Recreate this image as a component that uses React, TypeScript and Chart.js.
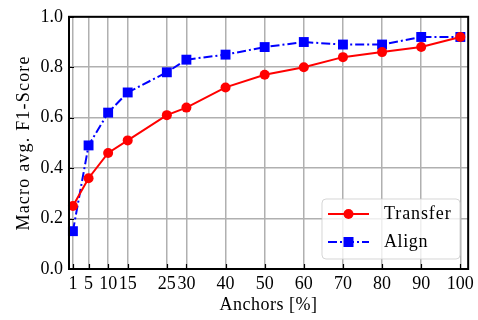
import React, { useEffect, useRef } from 'react';
import { Chart, registerables } from 'chart.js';

Chart.register(...registerables);

const anchors = [1, 5, 10, 15, 25, 30, 40, 50, 60, 70, 80, 90, 100];
const transfer = [0.25, 0.36, 0.46, 0.51, 0.61, 0.64, 0.72, 0.77, 0.8, 0.84, 0.86, 0.88, 0.92];
const align = [0.15, 0.49, 0.62, 0.7, 0.78, 0.83, 0.85, 0.88, 0.9, 0.89, 0.89, 0.92, 0.92];
const yTicks = [0, 0.2, 0.4, 0.6, 0.8, 1.0];
const seriesLabels = ['Transfer', 'Align'];
const xTitle = 'Anchors [%]';
const yTitle = 'Macro avg. F1-Score';

const FONT = '"Liberation Serif", "Times New Roman", serif';
const FS = 18;

const decorPlugin = {
  id: 'decor',
  afterDatasetsDraw(chart: any) {
    const ctx = chart.ctx;
    const { left, right, top, bottom } = chart.chartArea;
    const xs = chart.scales.x;
    const ys = chart.scales.y;
    ctx.save();
    // tick marks (inward)
    ctx.strokeStyle = '#000';
    ctx.lineWidth = 1.2;
    ctx.beginPath();
    anchors.forEach((v) => {
      const px = Math.round(xs.getPixelForValue(v)) + 0.5;
      ctx.moveTo(px, bottom);
      ctx.lineTo(px, bottom - 5);
    });
    yTicks.forEach((v) => {
      const py = Math.round(ys.getPixelForValue(v)) + 0.5;
      ctx.moveTo(left, py);
      ctx.lineTo(left + 5, py);
    });
    ctx.stroke();
    // spines
    ctx.lineWidth = 2;
    ctx.strokeRect(left, top, right - left, bottom - top);
    // titles
    ctx.fillStyle = '#000';
    ctx.font = `${FS}px ${FONT}`;
    ctx.textAlign = 'center';
    ctx.textBaseline = 'middle';
    (ctx as any).letterSpacing = '0.5px';
    ctx.fillText(xTitle, (left + right) / 2, 305);
    ctx.save();
    ctx.translate(24, (top + bottom) / 2);
    ctx.rotate(-Math.PI / 2);
    (ctx as any).letterSpacing = '1.2px';
    ctx.fillText(yTitle, 0, 0);
    ctx.restore();
    // legend
    const lx = 322, ly = 199, lw = 138, lh = 60, r = 4;
    ctx.beginPath();
    ctx.moveTo(lx + r, ly);
    ctx.arcTo(lx + lw, ly, lx + lw, ly + lh, r);
    ctx.arcTo(lx + lw, ly + lh, lx, ly + lh, r);
    ctx.arcTo(lx, ly + lh, lx, ly, r);
    ctx.arcTo(lx, ly, lx + lw, ly, r);
    ctx.closePath();
    ctx.fillStyle = 'rgba(255,255,255,0.8)';
    ctx.fill();
    ctx.strokeStyle = 'rgba(204,204,204,0.8)';
    ctx.lineWidth = 1;
    ctx.stroke();
    chart.data.datasets.forEach((ds: any, i: number) => {
      const cy = 214 + i * 28;
      ctx.strokeStyle = ds.borderColor;
      ctx.lineWidth = 2;
      ctx.setLineDash(ds.borderDash || []);
      ctx.beginPath();
      ctx.moveTo(328, cy);
      ctx.lineTo(369, cy);
      ctx.stroke();
      ctx.setLineDash([]);
      ctx.fillStyle = ds.pointBackgroundColor;
      if (ds.pointStyle === 'rect') {
        ctx.fillRect(348.5 - 5, cy - 5, 10, 10);
      } else {
        ctx.beginPath();
        ctx.arc(348.5, cy, 5, 0, Math.PI * 2);
        ctx.fill();
      }
      ctx.fillStyle = '#000';
      ctx.textAlign = 'left';
      (ctx as any).letterSpacing = i === 0 ? '0.9px' : '0.6px';
      ctx.fillText(ds.label, 384, cy);
    });
    (ctx as any).letterSpacing = '0px';
    ctx.restore();
  },
};

export default function App() {
  const ref = useRef<HTMLCanvasElement>(null);
  useEffect(() => {
    if (!ref.current) return;
    const chart = new Chart(ref.current, {
      type: 'line',
      data: {
        datasets: [
          {
            label: seriesLabels[0],
            data: anchors.map((x, i) => ({ x, y: transfer[i] })),
            borderColor: '#ff0000',
            backgroundColor: '#ff0000',
            pointBackgroundColor: '#ff0000',
            pointBorderWidth: 0,
            pointStyle: 'circle',
            pointRadius: 5,
            borderWidth: 2,
            tension: 0,
            clip: false,
          } as any,
          {
            label: seriesLabels[1],
            data: anchors.map((x, i) => ({ x, y: align[i] })),
            borderColor: '#0000ff',
            backgroundColor: '#0000ff',
            pointBackgroundColor: '#0000ff',
            pointBorderWidth: 0,
            pointStyle: 'rect',
            pointRadius: 7,
            borderWidth: 2,
            borderDash: [9, 3, 2, 3],
            tension: 0,
            clip: false,
          } as any,
        ],
      },
      options: {
        responsive: false,
        animation: false,
        layout: { padding: { top: 15, right: 8, left: 0, bottom: 0 } },
        plugins: { legend: { display: false }, tooltip: { enabled: false } },
        scales: {
          x: {
            type: 'linear',
            min: 0,
            max: 102,
            afterBuildTicks: (s: any) => {
              s.ticks = anchors.map((v) => ({ value: v }));
            },
            afterFit: (s: any) => {
              s.height = 51;
            },
            grid: { color: '#b0b0b0', lineWidth: 1.5, drawTicks: false },
            border: { display: false },
            ticks: {
              autoSkip: false,
              maxRotation: 0,
              minRotation: 0,
              padding: 4,
              color: '#000',
              font: { family: FONT, size: FS },
              callback: (v: any) => String(v),
            },
          },
          y: {
            type: 'linear',
            min: 0,
            max: 1,
            afterBuildTicks: (s: any) => {
              s.ticks = yTicks.map((v) => ({ value: v }));
            },
            afterFit: (s: any) => {
              s.width = 69;
            },
            grid: { color: '#b0b0b0', lineWidth: 1.5, drawTicks: false },
            border: { display: false },
            ticks: {
              padding: 6,
              color: '#000',
              font: { family: FONT, size: FS },
              callback: (v: any) => Number(v).toFixed(1),
            },
          },
        },
      },
      plugins: [decorPlugin],
    });
    return () => chart.destroy();
  }, []);
  return (
    <div style={{ position: 'fixed', left: 0, top: 0, width: 478, height: 320, background: '#fff' }}>
      <canvas ref={ref} width={478} height={320} />
    </div>
  );
}
